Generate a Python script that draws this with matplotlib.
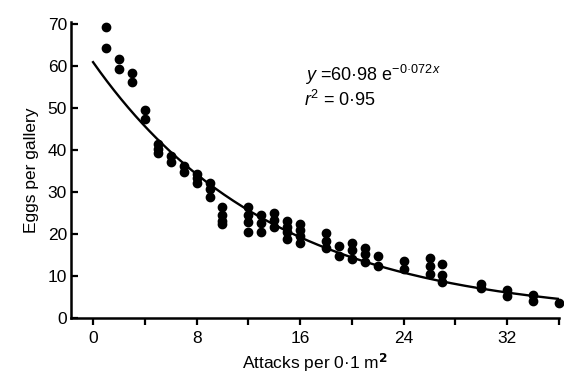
import numpy as np
import matplotlib.pyplot as plt

plt.rcParams['font.family'] = ['Liberation Sans', 'DejaVu Sans']
plt.rcParams['mathtext.fontset'] = 'custom'
plt.rcParams['mathtext.rm'] = 'Liberation Sans'
plt.rcParams['mathtext.it'] = 'Liberation Sans:italic'

# observed eggs per gallery at each attack density
attacks = [1, 1, 2, 2, 3, 3, 4, 4,
           5, 5, 5, 6, 6, 7, 7, 8, 8, 8,
           9, 9, 9, 10, 10, 10, 10,
           12, 12, 12, 12, 13, 13, 13, 14, 14, 14,
           15, 15, 15, 15, 16, 16, 16, 16,
           18, 18, 18, 19, 19, 20, 20, 20, 21, 21, 21,
           22, 22, 24, 24, 26, 26, 26, 27, 27, 27,
           30, 30, 32, 32, 34, 34, 36]
eggs = [69.3, 64.4, 61.7, 59.3, 58.4, 56.3, 49.5, 47.4,
        41.5, 40.4, 39.3, 38.6, 37.1, 36.2, 34.8, 34.4, 33.3, 32.1,
        32.3, 30.8, 28.9, 26.5, 24.6, 23.2, 22.4,
        26.5, 24.5, 23.0, 20.5, 24.5, 22.6, 20.4, 25.0, 23.4, 21.6,
        23.2, 21.8, 20.4, 18.8, 22.4, 21.0, 19.5, 18.0,
        20.3, 18.4, 16.7, 17.2, 14.8, 17.8, 16.3, 14.0, 16.6, 15.3, 13.4,
        14.9, 12.3, 13.7, 11.6, 14.3, 12.4, 10.5, 12.9, 10.2, 8.7,
        8.2, 7.1, 6.6, 5.2, 5.4, 4.0, 3.6]

a_fit = 60.98
b_fit = 0.072

fig = plt.figure(figsize=(5.64, 3.76), dpi=100)
ax = fig.add_axes([0.126, 0.154, 0.865, 0.787])

ax.scatter(attacks, eggs, s=36, color='black', zorder=3, clip_on=False)
xs = np.linspace(0, 36, 200)
ax.plot(xs, a_fit * np.exp(-b_fit * xs), color='black', lw=1.7)

ax.set_xlim(-1.7, 36)
ax.set_ylim(0, 70.5)
ax.set_xticks(np.arange(0, 37, 4))
ax.set_xticklabels(['0', '', '8', '', '16', '', '24', '', '32', ''])
ax.set_yticks(np.arange(0, 71, 10))

for s in ['top', 'right']:
    ax.spines[s].set_visible(False)
for s in ['left', 'bottom']:
    ax.spines[s].set_linewidth(1.8)
ax.tick_params(axis='x', direction='out', length=5, width=1.6, labelsize=12.5, pad=4)
ax.tick_params(axis='y', direction='in', length=5, width=1.6, labelsize=12.5, pad=3)

ax.set_xlabel('Attacks per 0\u00b71 m$^{\\mathbf{2}}$', fontsize=12.5, labelpad=4)
ax.set_ylabel('Eggs per gallery', fontsize=12.5, labelpad=6)

ax.text(16.4, 57.9, '$y$ =60\u00b798 e$^{-0\u00b7072\\,x}$', fontsize=13, va='center')
ax.text(16.3, 51.9, '$r^{2}$ = 0\u00b795', fontsize=13, va='center')

fig.savefig('out.png', dpi=100)
